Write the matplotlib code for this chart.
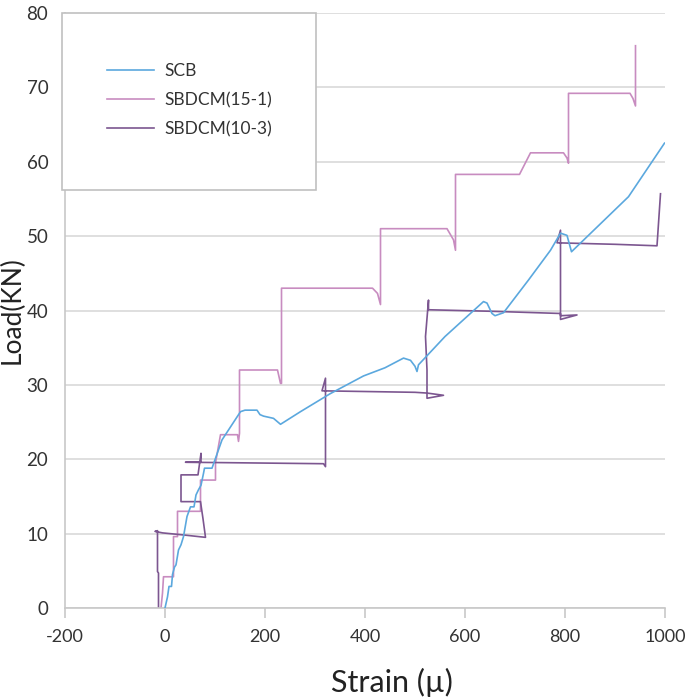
import matplotlib
matplotlib.use('Agg')
import matplotlib.pyplot as plt
from matplotlib.patches import Rectangle

plt.rcParams['font.family'] = ['Lato', 'DejaVu Sans']
plt.rcParams['axes.unicode_minus'] = False

# SCB
scb_strain = [0, 5, 8, 13, 15, 19, 22, 27, 32, 37, 44, 51, 58, 62, 67, 72, 77, 79, 94, 114, 151,
              160, 184, 190, 197, 217, 231, 271, 330, 397, 440, 477, 491, 500, 504, 507, 560,
              637, 644, 654, 660, 677, 727, 771, 791, 804, 813, 927, 999]
scb_load = [0, 1.5, 2.9, 2.9, 4.5, 5.5, 5.8, 7.8, 8.5, 9.6, 12.3, 13.6, 13.6, 15.2, 15.9, 16.5,
            18.1, 18.8, 18.8, 22.6, 26.4, 26.6, 26.6, 26.0, 25.8, 25.5, 24.7, 26.4, 28.8, 31.2,
            32.3, 33.6, 33.3, 32.5, 31.8, 32.7, 36.5, 41.2, 41.0, 39.6, 39.3, 39.7, 44.1, 48.1,
            50.4, 50.1, 47.9, 55.3, 62.5]

# SBDCM(15-1)
s151_strain = [-8, -5, -3, 17, 17, 25, 25, 71, 71, 101, 101, 111, 145, 147, 149, 149, 225, 231,
               233, 233, 415, 425, 431, 431, 564, 577, 581, 581, 709, 731, 797, 804, 807, 807,
               930, 936, 941, 941]
s151_load = [0, 2, 4.2, 4.2, 9.6, 9.6, 13, 13, 17.2, 17.2, 19.5, 23.3, 23.3, 22.4, 23.5, 32, 32,
             30.2, 30.2, 43, 43, 42.3, 40.8, 51.0, 51.0, 49.5, 48.1, 58.3, 58.3, 61.2, 61.2,
             60.5, 59.8, 69.2, 69.2, 68.5, 67.5, 75.6]

# SBDCM(10-3)
s103_strain = [-13, -13, -15, -15, -20, -5, 40, 81, 76, 71, 32, 32, 66, 72, 72, 41, 317, 321,
               321, 321, 314, 500, 524, 557, 524, 524, 521, 527, 527, 650, 791, 791, 824, 791,
               791, 784, 900, 984, 991]
s103_load = [0, 4.7, 4.9, 10.4, 10.3, 10.1, 9.8, 9.5, 12.0, 14.3, 14.3, 17.9, 17.9, 20.8, 19.6,
             19.6, 19.4, 19.0, 25, 30.9, 29.2, 29.0, 28.9, 28.6, 28.2, 32, 36.5, 41.4, 40.1,
             39.9, 39.6, 38.8, 39.4, 39.3, 50.8, 49.1, 48.9, 48.7, 55.7]

xticks = [-200, 0, 200, 400, 600, 800, 1000]
yticks = [0, 10, 20, 30, 40, 50, 60, 70, 80]

fig = plt.figure(figsize=(6.85, 6.99), dpi=100)
ax = fig.add_axes([65 / 685, 1 - 608 / 699, 600 / 685, 595 / 699])

ax.plot(scb_strain, scb_load, color='#5ba8de', lw=1.2, label='SCB', zorder=3)
ax.plot(s151_strain, s151_load, color='#c88cc0', lw=1.2, label='SBDCM(15-1)', zorder=2)
ax.plot(s103_strain, s103_load, color='#7c5690', lw=1.2, label='SBDCM(10-3)', zorder=2)

ax.set_xlim(-200, 1000)
ax.set_ylim(0, 80)
ax.set_xticks(xticks)
ax.set_yticks(yticks)
ax.yaxis.grid(True, color='#d9d9d9', lw=1.2)
ax.set_axisbelow(True)
for side in ['top', 'right']:
    ax.spines[side].set_visible(False)
for side in ['left', 'bottom']:
    ax.spines[side].set_color('#c8c8c8')
    ax.spines[side].set_linewidth(1.2)
ax.tick_params(axis='x', direction='out', length=7, width=1.2, color='#c8c8c8',
               labelsize=13, labelcolor='#333333', pad=8)
ax.tick_params(axis='y', length=0, labelsize=13.5, labelcolor='#333333', pad=12)

ax.set_xlabel('Strain (µ)', fontsize=22, color='#222222')
ax.xaxis.set_label_coords(0.545, -0.1)
ax.set_ylabel('Load(KN)', fontsize=19, color='#222222')
ax.yaxis.set_label_coords(-0.068, 0.5)

# legend box
ax.add_patch(Rectangle((62 / 685, 1 - 190 / 699), 254 / 685, 177 / 699,
                       transform=fig.transFigure, facecolor='white', clip_on=False,
                       edgecolor='#c0c0c0', lw=1.2, zorder=5))
leg = ax.legend(loc='upper left', bbox_to_anchor=(107 / 685, 1 - 63 / 699),
                bbox_transform=fig.transFigure, frameon=False, fontsize=12.5,
                handlelength=2.7, handletextpad=0.6, labelspacing=0.75,
                borderpad=0, borderaxespad=0)
leg.set_zorder(6)
for t in leg.get_texts():
    t.set_color('#333333')

fig.savefig('out.png', dpi=100)
